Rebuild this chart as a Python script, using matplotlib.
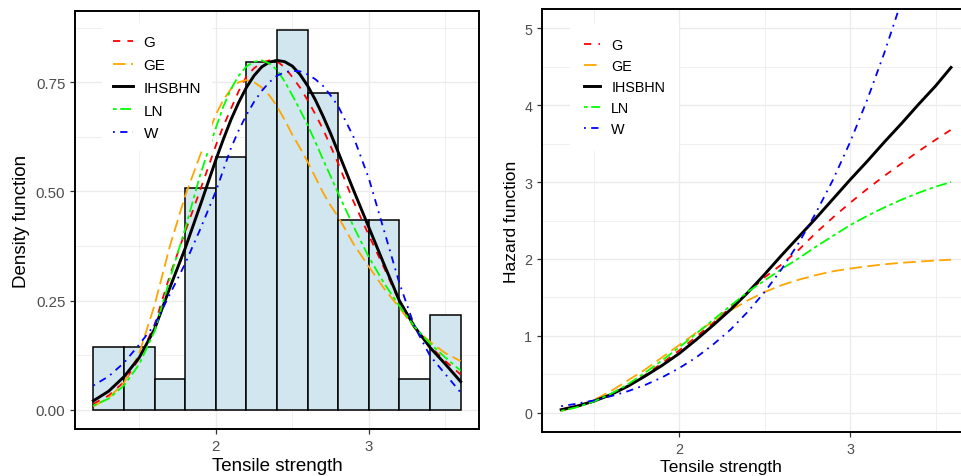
import matplotlib
matplotlib.use("Agg")
import matplotlib.pyplot as plt
from matplotlib.ticker import FixedLocator

plt.rcParams['font.family'] = ['Liberation Sans', 'DejaVu Sans']

# ---------------- data ----------------
hist_edges = [1.2, 1.4, 1.6, 1.8, 2.0, 2.2, 2.4, 2.6, 2.8, 3.0, 3.2, 3.4, 3.6]
hist_density = [0.145, 0.145, 0.072, 0.507, 0.580, 0.797, 0.870, 0.725, 0.435, 0.435, 0.072, 0.217]

dens_x = [1.2, 1.3, 1.4, 1.5, 1.6, 1.7, 1.8, 1.9, 2.0,
          2.05, 2.1, 2.15, 2.2, 2.25, 2.3, 2.35, 2.4, 2.45, 2.5, 2.55, 2.6, 2.65, 2.7, 2.75, 2.8,
          2.9, 3.0, 3.1, 3.2, 3.3, 3.4, 3.5, 3.6]
dens_G = [0.014, 0.033, 0.064, 0.118, 0.195, 0.308, 0.408, 0.505, 0.605,
          0.65, 0.69, 0.73, 0.763, 0.782, 0.795, 0.80, 0.798, 0.784, 0.762, 0.738, 0.709, 0.677, 0.643, 0.604, 0.564,
          0.477, 0.40, 0.325, 0.248, 0.19, 0.146, 0.112, 0.081]
dens_GE = [0.008, 0.028, 0.062, 0.13, 0.24, 0.375, 0.49, 0.585, 0.676,
           0.71, 0.735, 0.75, 0.755, 0.75, 0.738, 0.72, 0.695, 0.664, 0.63, 0.60, 0.568, 0.533, 0.498, 0.468, 0.442,
           0.38, 0.328, 0.278, 0.234, 0.187, 0.156, 0.13, 0.112]
dens_IHSBHN = [0.021, 0.043, 0.076, 0.12, 0.185, 0.28, 0.37, 0.47, 0.572,
               0.62, 0.665, 0.704, 0.738, 0.765, 0.785, 0.796, 0.80, 0.797, 0.787, 0.768, 0.742, 0.71, 0.673, 0.633, 0.59,
               0.503, 0.418, 0.333, 0.25, 0.19, 0.143, 0.105, 0.065]
dens_LN = [0.010, 0.026, 0.056, 0.105, 0.18, 0.30, 0.415, 0.54, 0.645,
           0.695, 0.735, 0.765, 0.786, 0.797, 0.80, 0.793, 0.778, 0.752, 0.72, 0.687, 0.652, 0.614, 0.574, 0.535, 0.496,
           0.42, 0.35, 0.29, 0.238, 0.19, 0.152, 0.12, 0.09]
dens_W = [0.056, 0.077, 0.108, 0.15, 0.195, 0.265, 0.335, 0.415, 0.50,
          0.55, 0.60, 0.64, 0.675, 0.705, 0.73, 0.75, 0.765, 0.773, 0.776, 0.775, 0.768, 0.757, 0.742, 0.72, 0.695,
          0.625, 0.53, 0.41, 0.29, 0.19, 0.124, 0.082, 0.04]

haz_x = [1.31, 1.4, 1.5, 1.6, 1.7, 1.8, 1.9, 2.0, 2.1, 2.2, 2.3, 2.4, 2.5,
         2.6, 2.7, 2.8, 2.9, 3.0, 3.1, 3.2, 3.3, 3.4, 3.5, 3.59]
haz_G = [0.03, 0.075, 0.145, 0.235, 0.35, 0.49, 0.645, 0.81, 0.99, 1.17, 1.37, 1.56, 1.76,
         1.93, 2.12, 2.34, 2.54, 2.73, 2.91, 3.08, 3.24, 3.40, 3.55, 3.68]
haz_GE = [0.025, 0.08, 0.165, 0.28, 0.42, 0.56, 0.72, 0.88, 1.04, 1.19, 1.33, 1.46, 1.57,
          1.66, 1.73, 1.79, 1.84, 1.875, 1.905, 1.93, 1.95, 1.965, 1.98, 1.99]
haz_IHSBHN = [0.04, 0.085, 0.15, 0.235, 0.345, 0.475, 0.615, 0.77, 0.95, 1.14, 1.34, 1.56, 1.80,
              2.05, 2.29, 2.53, 2.78, 3.03, 3.27, 3.52, 3.76, 4.01, 4.25, 4.49]
haz_LN = [0.025, 0.07, 0.145, 0.245, 0.37, 0.52, 0.68, 0.85, 1.03, 1.21, 1.39, 1.57, 1.72,
          1.87, 2.01, 2.16, 2.30, 2.44, 2.56, 2.67, 2.77, 2.86, 2.94, 3.0]
haz_W = [0.086, 0.117, 0.16, 0.215, 0.28, 0.36, 0.46, 0.58, 0.72, 0.89, 1.08, 1.31, 1.57,
         1.87, 2.21, 2.6, 3.03, 3.52, 4.07, 4.68, 5.35]

labels = ['G', 'GE', 'IHSBHN', 'LN', 'W']
colors = ['red', 'orange', 'black', '#00FF00', 'blue']
dashes = [(4, 4), (7, 3), None, (2, 2, 6, 2), (1, 3, 4, 3)]
widths = [1.3, 1.3, 2.1, 1.3, 1.3]

# ---------------- figure ----------------
W_PX, H_PX = 961, 477
fig = plt.figure(figsize=(W_PX / 100, H_PX / 100), dpi=100)

def px_axes(l, r, t, b):
    return fig.add_axes([l / W_PX, 1 - b / H_PX, (r - l) / W_PX, (b - t) / H_PX])

ax1 = px_axes(75, 479, 12, 430)
ax2 = px_axes(542, 970, 10, 433)

def style(ax, fs_tick, xminor, yminor):
    ax.set_facecolor('white')
    ax.grid(True, which='major', color='#EBEBEB', lw=1.0, zorder=0)
    ax.grid(True, which='minor', color='#EBEBEB', lw=0.55, zorder=0)
    ax.xaxis.set_minor_locator(FixedLocator(xminor))
    ax.yaxis.set_minor_locator(FixedLocator(yminor))
    ax.set_axisbelow(True)
    for s in ax.spines.values():
        s.set_color('black')
        s.set_linewidth(1.4)
        s.set_zorder(5)
    ax.tick_params(which='major', length=3.5, width=0.9, color='#333333',
                   labelcolor='#4D4D4D', labelsize=fs_tick, pad=3.5)
    ax.tick_params(which='minor', length=0)

def series_lines(ax, xs, ys_list):
    handles = []
    for ys, lab, c, d, lw in zip(ys_list, labels, colors, dashes, widths):
        xx = xs[:len(ys)]
        line, = ax.plot(xx, ys, color=c, lw=lw, label=lab, zorder=3,
                        solid_joinstyle='round', dash_joinstyle='round')
        if d is not None:
            line.set_dashes(d)
        handles.append(line)
    return handles

# ---- left: density ----
style(ax1, 10.8, [1.5, 2.5, 3.5], [0.125, 0.375, 0.625, 0.875])
widths_bar = [hist_edges[i + 1] - hist_edges[i] for i in range(len(hist_density))]
ax1.bar(hist_edges[:-1], hist_density, width=widths_bar, align='edge',
        color='#D1E6EF', edgecolor='black', linewidth=1.1, zorder=2)
series_lines(ax1, dens_x, [dens_G, dens_GE, dens_IHSBHN, dens_LN, dens_W])
ax1.set_xlim(1.08, 3.72)
ax1.set_ylim(-0.0435, 0.913)
ax1.set_xticks([2, 3])
ax1.set_xticklabels(['2', '3'])
ax1.set_yticks([0, 0.25, 0.5, 0.75])
ax1.set_yticklabels(['0.00', '0.25', '0.50', '0.75'])
ax1.set_xlabel('Tensile strength', fontsize=13.5, va='center')
ax1.set_ylabel('Density function', fontsize=13.5, va='center')
ax1.xaxis.set_label_coords(0.5, (430 - 466.5) / 418)
ax1.yaxis.set_label_coords((22 - 75) / 404, 0.5)
leg1 = ax1.legend(loc='upper left', bbox_to_anchor=((102 - 75) / 404, (430 - 25) / 418),
                  borderaxespad=0, frameon=True, fancybox=False, fontsize=11.0,
                  handlelength=1.3, handletextpad=0.7, labelspacing=0.58,
                  borderpad=0.72)
leg1.get_frame().set_facecolor('white')
leg1.get_frame().set_edgecolor('none')
leg1.get_frame().set_alpha(1)

# ---- right: hazard ----
style(ax2, 10.3, [1.5, 2.5, 3.5], [0.5, 1.5, 2.5, 3.5, 4.5])
series_lines(ax2, haz_x, [haz_G, haz_GE, haz_IHSBHN, haz_LN, haz_W])
ax2.set_xlim(1.198, 3.701)
ax2.set_ylim(-0.25, 5.25)
ax2.set_xticks([2, 3])
ax2.set_xticklabels(['2', '3'])
ax2.set_yticks([0, 1, 2, 3, 4, 5])
ax2.set_xlabel('Tensile strength', fontsize=12.5, va='center')
ax2.set_ylabel('Hazard function', fontsize=12.5, va='center')
ax2.xaxis.set_label_coords((721 - 542) / 428, (433 - 468) / 423)
ax2.yaxis.set_label_coords((512 - 542) / 428, 0.5)
leg2 = ax2.legend(loc='upper left', bbox_to_anchor=((570 - 542) / 428, (433 - 25) / 423),
                  borderaxespad=0, frameon=True, fancybox=False, fontsize=10.4,
                  handlelength=1.05, handletextpad=0.8, labelspacing=0.48,
                  borderpad=1.0)
leg2.get_frame().set_facecolor('white')
leg2.get_frame().set_edgecolor('none')
leg2.get_frame().set_alpha(1)

fig.savefig('out.png', dpi=100)
